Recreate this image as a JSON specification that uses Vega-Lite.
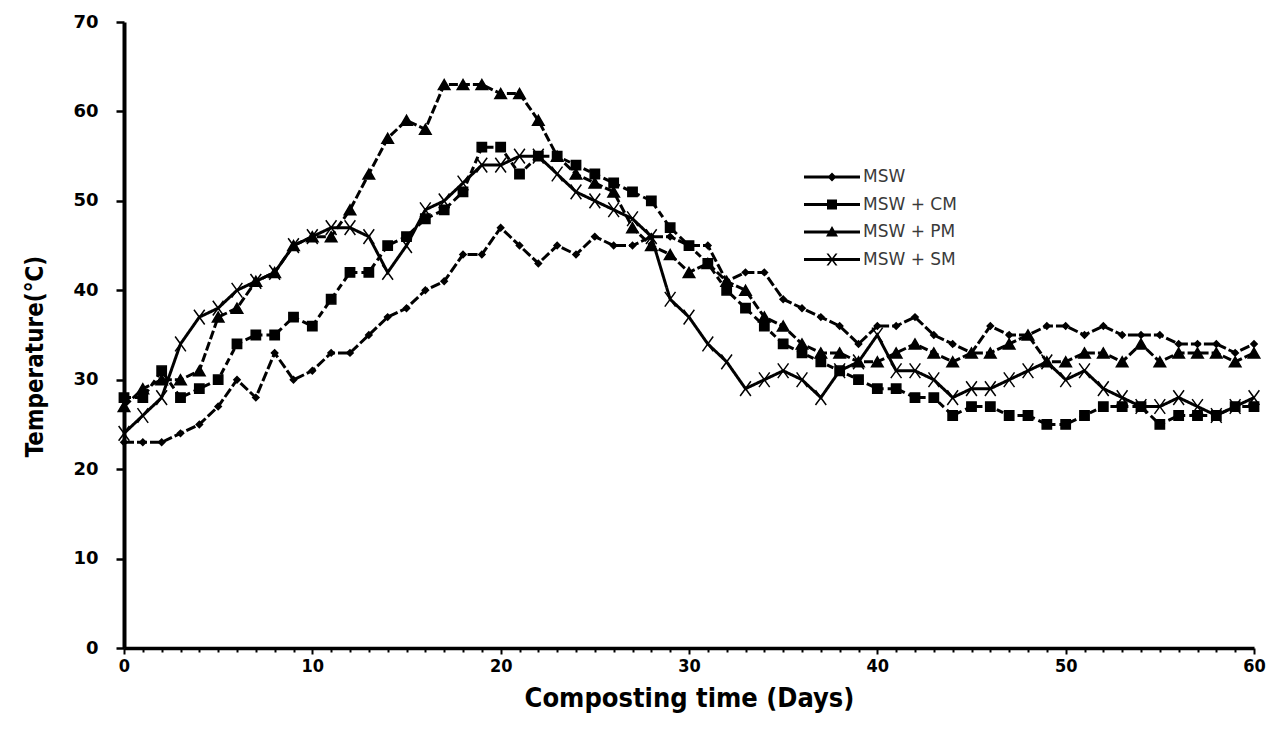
{
"$schema":"https://vega.github.io/schema/vega-lite/v6.json",
"width":1130,"height":626,
"autosize":{"type":"none"},
"padding":{"left":124,"top":22,"right":22,"bottom":92},
"background":"white",
"config":{"view":{"stroke":null}},
"datasets":{"t":[
{"day":0,"series":"MSW","temp":23},{"day":1,"series":"MSW","temp":23},{"day":2,"series":"MSW","temp":23},{"day":3,"series":"MSW","temp":24},{"day":4,"series":"MSW","temp":25},{"day":5,"series":"MSW","temp":27},{"day":6,"series":"MSW","temp":30},{"day":7,"series":"MSW","temp":28},{"day":8,"series":"MSW","temp":33},{"day":9,"series":"MSW","temp":30},
{"day":10,"series":"MSW","temp":31},{"day":11,"series":"MSW","temp":33},{"day":12,"series":"MSW","temp":33},{"day":13,"series":"MSW","temp":35},{"day":14,"series":"MSW","temp":37},{"day":15,"series":"MSW","temp":38},{"day":16,"series":"MSW","temp":40},{"day":17,"series":"MSW","temp":41},{"day":18,"series":"MSW","temp":44},{"day":19,"series":"MSW","temp":44},
{"day":20,"series":"MSW","temp":47},{"day":21,"series":"MSW","temp":45},{"day":22,"series":"MSW","temp":43},{"day":23,"series":"MSW","temp":45},{"day":24,"series":"MSW","temp":44},{"day":25,"series":"MSW","temp":46},{"day":26,"series":"MSW","temp":45},{"day":27,"series":"MSW","temp":45},{"day":28,"series":"MSW","temp":46},{"day":29,"series":"MSW","temp":46},
{"day":30,"series":"MSW","temp":45},{"day":31,"series":"MSW","temp":45},{"day":32,"series":"MSW","temp":41},{"day":33,"series":"MSW","temp":42},{"day":34,"series":"MSW","temp":42},{"day":35,"series":"MSW","temp":39},{"day":36,"series":"MSW","temp":38},{"day":37,"series":"MSW","temp":37},{"day":38,"series":"MSW","temp":36},{"day":39,"series":"MSW","temp":34},
{"day":40,"series":"MSW","temp":36},{"day":41,"series":"MSW","temp":36},{"day":42,"series":"MSW","temp":37},{"day":43,"series":"MSW","temp":35},{"day":44,"series":"MSW","temp":34},{"day":45,"series":"MSW","temp":33},{"day":46,"series":"MSW","temp":36},{"day":47,"series":"MSW","temp":35},{"day":48,"series":"MSW","temp":35},{"day":49,"series":"MSW","temp":36},
{"day":50,"series":"MSW","temp":36},{"day":51,"series":"MSW","temp":35},{"day":52,"series":"MSW","temp":36},{"day":53,"series":"MSW","temp":35},{"day":54,"series":"MSW","temp":35},{"day":55,"series":"MSW","temp":35},{"day":56,"series":"MSW","temp":34},{"day":57,"series":"MSW","temp":34},{"day":58,"series":"MSW","temp":34},{"day":59,"series":"MSW","temp":33},{"day":60,"series":"MSW","temp":34},
{"day":0,"series":"MSW + CM","temp":28},{"day":1,"series":"MSW + CM","temp":28},{"day":2,"series":"MSW + CM","temp":31},{"day":3,"series":"MSW + CM","temp":28},{"day":4,"series":"MSW + CM","temp":29},{"day":5,"series":"MSW + CM","temp":30},{"day":6,"series":"MSW + CM","temp":34},{"day":7,"series":"MSW + CM","temp":35},{"day":8,"series":"MSW + CM","temp":35},{"day":9,"series":"MSW + CM","temp":37},
{"day":10,"series":"MSW + CM","temp":36},{"day":11,"series":"MSW + CM","temp":39},{"day":12,"series":"MSW + CM","temp":42},{"day":13,"series":"MSW + CM","temp":42},{"day":14,"series":"MSW + CM","temp":45},{"day":15,"series":"MSW + CM","temp":46},{"day":16,"series":"MSW + CM","temp":48},{"day":17,"series":"MSW + CM","temp":49},{"day":18,"series":"MSW + CM","temp":51},{"day":19,"series":"MSW + CM","temp":56},
{"day":20,"series":"MSW + CM","temp":56},{"day":21,"series":"MSW + CM","temp":53},{"day":22,"series":"MSW + CM","temp":55},{"day":23,"series":"MSW + CM","temp":55},{"day":24,"series":"MSW + CM","temp":54},{"day":25,"series":"MSW + CM","temp":53},{"day":26,"series":"MSW + CM","temp":52},{"day":27,"series":"MSW + CM","temp":51},{"day":28,"series":"MSW + CM","temp":50},{"day":29,"series":"MSW + CM","temp":47},
{"day":30,"series":"MSW + CM","temp":45},{"day":31,"series":"MSW + CM","temp":43},{"day":32,"series":"MSW + CM","temp":40},{"day":33,"series":"MSW + CM","temp":38},{"day":34,"series":"MSW + CM","temp":36},{"day":35,"series":"MSW + CM","temp":34},{"day":36,"series":"MSW + CM","temp":33},{"day":37,"series":"MSW + CM","temp":32},{"day":38,"series":"MSW + CM","temp":31},{"day":39,"series":"MSW + CM","temp":30},
{"day":40,"series":"MSW + CM","temp":29},{"day":41,"series":"MSW + CM","temp":29},{"day":42,"series":"MSW + CM","temp":28},{"day":43,"series":"MSW + CM","temp":28},{"day":44,"series":"MSW + CM","temp":26},{"day":45,"series":"MSW + CM","temp":27},{"day":46,"series":"MSW + CM","temp":27},{"day":47,"series":"MSW + CM","temp":26},{"day":48,"series":"MSW + CM","temp":26},{"day":49,"series":"MSW + CM","temp":25},
{"day":50,"series":"MSW + CM","temp":25},{"day":51,"series":"MSW + CM","temp":26},{"day":52,"series":"MSW + CM","temp":27},{"day":53,"series":"MSW + CM","temp":27},{"day":54,"series":"MSW + CM","temp":27},{"day":55,"series":"MSW + CM","temp":25},{"day":56,"series":"MSW + CM","temp":26},{"day":57,"series":"MSW + CM","temp":26},{"day":58,"series":"MSW + CM","temp":26},{"day":59,"series":"MSW + CM","temp":27},{"day":60,"series":"MSW + CM","temp":27},
{"day":0,"series":"MSW + PM","temp":27},{"day":1,"series":"MSW + PM","temp":29},{"day":2,"series":"MSW + PM","temp":30},{"day":3,"series":"MSW + PM","temp":30},{"day":4,"series":"MSW + PM","temp":31},{"day":5,"series":"MSW + PM","temp":37},{"day":6,"series":"MSW + PM","temp":38},{"day":7,"series":"MSW + PM","temp":41},{"day":8,"series":"MSW + PM","temp":42},{"day":9,"series":"MSW + PM","temp":45},
{"day":10,"series":"MSW + PM","temp":46},{"day":11,"series":"MSW + PM","temp":46},{"day":12,"series":"MSW + PM","temp":49},{"day":13,"series":"MSW + PM","temp":53},{"day":14,"series":"MSW + PM","temp":57},{"day":15,"series":"MSW + PM","temp":59},{"day":16,"series":"MSW + PM","temp":58},{"day":17,"series":"MSW + PM","temp":63},{"day":18,"series":"MSW + PM","temp":63},{"day":19,"series":"MSW + PM","temp":63},
{"day":20,"series":"MSW + PM","temp":62},{"day":21,"series":"MSW + PM","temp":62},{"day":22,"series":"MSW + PM","temp":59},{"day":23,"series":"MSW + PM","temp":55},{"day":24,"series":"MSW + PM","temp":53},{"day":25,"series":"MSW + PM","temp":52},{"day":26,"series":"MSW + PM","temp":51},{"day":27,"series":"MSW + PM","temp":47},{"day":28,"series":"MSW + PM","temp":45},{"day":29,"series":"MSW + PM","temp":44},
{"day":30,"series":"MSW + PM","temp":42},{"day":31,"series":"MSW + PM","temp":43},{"day":32,"series":"MSW + PM","temp":41},{"day":33,"series":"MSW + PM","temp":40},{"day":34,"series":"MSW + PM","temp":37},{"day":35,"series":"MSW + PM","temp":36},{"day":36,"series":"MSW + PM","temp":34},{"day":37,"series":"MSW + PM","temp":33},{"day":38,"series":"MSW + PM","temp":33},{"day":39,"series":"MSW + PM","temp":32},
{"day":40,"series":"MSW + PM","temp":32},{"day":41,"series":"MSW + PM","temp":33},{"day":42,"series":"MSW + PM","temp":34},{"day":43,"series":"MSW + PM","temp":33},{"day":44,"series":"MSW + PM","temp":32},{"day":45,"series":"MSW + PM","temp":33},{"day":46,"series":"MSW + PM","temp":33},{"day":47,"series":"MSW + PM","temp":34},{"day":48,"series":"MSW + PM","temp":35},{"day":49,"series":"MSW + PM","temp":32},
{"day":50,"series":"MSW + PM","temp":32},{"day":51,"series":"MSW + PM","temp":33},{"day":52,"series":"MSW + PM","temp":33},{"day":53,"series":"MSW + PM","temp":32},{"day":54,"series":"MSW + PM","temp":34},{"day":55,"series":"MSW + PM","temp":32},{"day":56,"series":"MSW + PM","temp":33},{"day":57,"series":"MSW + PM","temp":33},{"day":58,"series":"MSW + PM","temp":33},{"day":59,"series":"MSW + PM","temp":32},{"day":60,"series":"MSW + PM","temp":33},
{"day":0,"series":"MSW + SM","temp":24},{"day":1,"series":"MSW + SM","temp":26},{"day":2,"series":"MSW + SM","temp":28},{"day":3,"series":"MSW + SM","temp":34},{"day":4,"series":"MSW + SM","temp":37},{"day":5,"series":"MSW + SM","temp":38},{"day":6,"series":"MSW + SM","temp":40},{"day":7,"series":"MSW + SM","temp":41},{"day":8,"series":"MSW + SM","temp":42},{"day":9,"series":"MSW + SM","temp":45},
{"day":10,"series":"MSW + SM","temp":46},{"day":11,"series":"MSW + SM","temp":47},{"day":12,"series":"MSW + SM","temp":47},{"day":13,"series":"MSW + SM","temp":46},{"day":14,"series":"MSW + SM","temp":42},{"day":15,"series":"MSW + SM","temp":45},{"day":16,"series":"MSW + SM","temp":49},{"day":17,"series":"MSW + SM","temp":50},{"day":18,"series":"MSW + SM","temp":52},{"day":19,"series":"MSW + SM","temp":54},
{"day":20,"series":"MSW + SM","temp":54},{"day":21,"series":"MSW + SM","temp":55},{"day":22,"series":"MSW + SM","temp":55},{"day":23,"series":"MSW + SM","temp":53},{"day":24,"series":"MSW + SM","temp":51},{"day":25,"series":"MSW + SM","temp":50},{"day":26,"series":"MSW + SM","temp":49},{"day":27,"series":"MSW + SM","temp":48},{"day":28,"series":"MSW + SM","temp":46},{"day":29,"series":"MSW + SM","temp":39},
{"day":30,"series":"MSW + SM","temp":37},{"day":31,"series":"MSW + SM","temp":34},{"day":32,"series":"MSW + SM","temp":32},{"day":33,"series":"MSW + SM","temp":29},{"day":34,"series":"MSW + SM","temp":30},{"day":35,"series":"MSW + SM","temp":31},{"day":36,"series":"MSW + SM","temp":30},{"day":37,"series":"MSW + SM","temp":28},{"day":38,"series":"MSW + SM","temp":31},{"day":39,"series":"MSW + SM","temp":32},
{"day":40,"series":"MSW + SM","temp":35},{"day":41,"series":"MSW + SM","temp":31},{"day":42,"series":"MSW + SM","temp":31},{"day":43,"series":"MSW + SM","temp":30},{"day":44,"series":"MSW + SM","temp":28},{"day":45,"series":"MSW + SM","temp":29},{"day":46,"series":"MSW + SM","temp":29},{"day":47,"series":"MSW + SM","temp":30},{"day":48,"series":"MSW + SM","temp":31},{"day":49,"series":"MSW + SM","temp":32},
{"day":50,"series":"MSW + SM","temp":30},{"day":51,"series":"MSW + SM","temp":31},{"day":52,"series":"MSW + SM","temp":29},{"day":53,"series":"MSW + SM","temp":28},{"day":54,"series":"MSW + SM","temp":27},{"day":55,"series":"MSW + SM","temp":27},{"day":56,"series":"MSW + SM","temp":28},{"day":57,"series":"MSW + SM","temp":27},{"day":58,"series":"MSW + SM","temp":26},{"day":59,"series":"MSW + SM","temp":27},{"day":60,"series":"MSW + SM","temp":28}
]},
"data":{"name":"t"},
"encoding":{
 "x":{"field":"day","type":"quantitative","scale":{"domain":[0,60],"nice":false,"zero":false},
  "axis":{"values":[0,1,2,3,4,5,6,7,8,9,10,11,12,13,14,15,16,17,18,19,20,21,22,23,24,25,26,27,28,29,30,31,32,33,34,35,36,37,38,39,40,41,42,43,44,45,46,47,48,49,50,51,52,53,54,55,56,57,58,59,60],
   "labelExpr":"datum.value % 10 === 0 ? datum.label : ''","labelOverlap":false,"labelFlush":false,"labelBound":false,
   "grid":false,"domainColor":"black","domainWidth":3.5,"tickColor":"black","tickWidth":2,
   "tickSize":{"condition":{"test":"datum.value % 10 === 0","value":6},"value":4},
   "labelPadding":3,"labelFont":"DejaVu Sans Condensed","labelFontWeight":"bold","labelFontSize":18,"labelColor":"black",
   "title":"Composting time (Days)","titleFont":"DejaVu Sans Condensed","titleFontWeight":"bold","titleFontSize":27,"titleColor":"black","titleBaseline":"alphabetic","titleY":58}},
 "y":{"field":"temp","type":"quantitative","scale":{"domain":[0,70],"nice":false},
  "axis":{"values":[0,10,20,30,40,50,60,70],"grid":false,"domainColor":"black","domainWidth":4,"tickColor":"black","tickWidth":2.5,"tickSize":8,"labelPadding":18,
   "labelFont":"DejaVu Sans","labelFontWeight":"bold","labelFontSize":18,"labelColor":"black",
   "title":"Temperature(°C)","titleFont":"DejaVu Sans Condensed","titleFontWeight":"bold","titleFontSize":24,"titleColor":"black","titleX":-82,"titleY":334,"titleBaseline":"alphabetic","titleAngle":270}}
},
"resolve":{"scale":{"shape":"independent"},"legend":{"shape":"independent"}},
"layer":[
 {"mark":{"type":"line","color":"black","strokeWidth":3},
  "encoding":{"strokeDash":{"field":"series","type":"nominal","scale":{"range":[[10,3],[7,4],[9,3],[1,0]]},"legend":null}}},
 {"mark":{"type":"point","filled":true,"fill":"black","stroke":"black","strokeWidth":1.5,"opacity":1},
  "encoding":{
   "size":{"field":"series","type":"ordinal","scale":{"range":[40,180,160,130]},"legend":null},
   "shape":{"field":"series","type":"nominal","scale":{"range":["diamond","square","triangle-up","M-0.8,-1.1L0.8,1.1M-0.8,1.1L0.8,-1.1"]},"legend":null}
  }},
 {"transform":[{"filter":{"field":"day","lt":-1}}],
  "mark":{"type":"point","filled":true,"color":"black","opacity":1},
  "encoding":{
   "shape":{"field":"series","type":"nominal","scale":{"domain":["MSW","MSW + CM","MSW + PM","MSW + SM"],
     "range":["M-2.8,-0.15H2.8V0.15H-2.8Z M0,-0.45L0.45,0L0,0.45L-0.45,0Z","M-2.8,-0.15H2.8V0.15H-2.8Z M-0.5,-0.5H0.5V0.5H-0.5Z","M-2.8,-0.15H2.8V0.15H-2.8Z M0,-0.6L0.6,0.45H-0.6Z","M-2.8,-0.15H2.8V0.15H-2.8Z M-0.55,-0.6H-0.35L0.55,0.6H0.35Z M0.35,-0.6H0.55L-0.35,0.6H-0.55Z"]},
    "legend":{"orient":"none","legendX":698,"legendY":145,"title":null,"padding":0,"symbolSize":400,"rowPadding":9.5,"labelOffset":21,
     "labelFont":"DejaVu Sans","labelFontSize":17,"labelColor":"#3a3a3a","symbolStrokeWidth":0,"symbolFillColor":"black","symbolOpacity":1}}
  }}
]
}
